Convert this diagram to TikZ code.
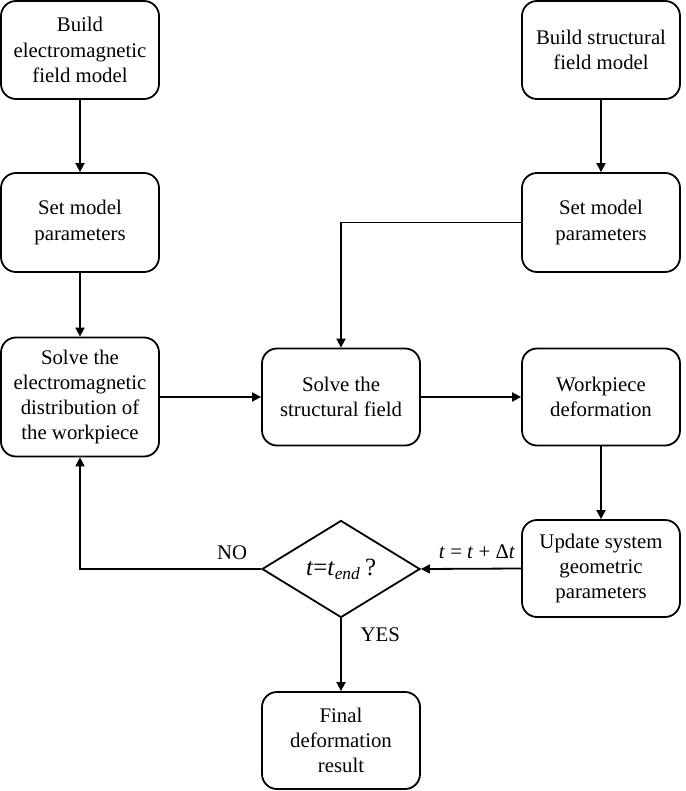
\documentclass[tikz,border=0pt]{standalone}
\usepackage{fontspec}
\setmainfont{Liberation Serif}
\usepackage{tikz}
\usetikzlibrary{positioning,arrows.meta,shapes.geometric}

\begin{document}
\begin{tikzpicture}[
  x=0.5pt, y=-0.5pt,
  box/.style={draw, rounded corners=7.5pt, line width=0.9pt,
              minimum width=79pt, minimum height=49pt, align=center,
              inner sep=2pt, font=\fontsize{10.4}{12.6}\selectfont},
  decide/.style={draw, diamond, line width=0.9pt, aspect=1.63, inner sep=0pt,
                 minimum width=79pt, minimum height=48.5pt,
                 font=\fontsize{12.4}{14}\selectfont},
  arr/.style={-{Triangle[length=4.5pt,width=4.5pt]}, line width=0.9pt},
  note/.style={font=\fontsize{10.4}{12.6}\selectfont}
]
  \useasboundingbox (0,0) rectangle (685,791);

  % Left column: electromagnetic field
  \node[box] (emmodel) at (80,50) {Build\\electromagnetic\\field model};
  \node[box, minimum height=49.5pt] (emparam) at (80,222.5) {Set model\\parameters};
  \node[box, minimum height=59.5pt] (emsolve) at (80,397)
    {Solve the\\electromagnetic\\distribution of\\the workpiece};

  % Right column: structural field
  \node[box] (stmodel) at (601,50) {Build structural\\field model};
  \node[box, minimum height=49.5pt] (stparam) at (601,222.5) {Set model\\parameters};

  % Middle row
  \node[box, minimum height=48.5pt] (stsolve) at (341,397) {Solve the\\structural field};
  \node[box, minimum height=48.5pt] (deform) at (601,397) {Workpiece\\deformation};

  % Loop and result
  \node[box, minimum height=48.5pt] (update) at (601,568.5)
    {Update system\\geometric\\parameters};
  \node[decide] (check) at (341,569) {\textit{t}=\textit{t}\textsubscript{\textit{end}}\,?};
  \node[box, minimum height=48.5pt] (final) at (341,740.5) {Final\\deformation\\result};

  % Connectors
  \draw[arr] (emmodel) -- (emparam);
  \draw[arr] (emparam) -- (emsolve);
  \draw[arr] (stmodel) -- (stparam);
  \draw[arr] (stparam.west) -| (stsolve.north);
  \draw[arr] (emsolve) -- (stsolve);
  \draw[arr] (stsolve) -- (deform);
  \draw[arr] (deform) -- (update);
  \draw[arr] (update.west) -- (check.east)
    node[note, midway, above=1pt, xshift=3pt] {\textit{t} = \textit{t} + Δ\textit{t}};
  \draw[arr] (check.west) -| (emsolve.south)
    node[note, pos=0.08, above=1pt] {NO};
  \draw[arr] (check.south) -- (final.north)
    node[note, pos=0.22, right=6pt] {YES};
\end{tikzpicture}
\end{document}
